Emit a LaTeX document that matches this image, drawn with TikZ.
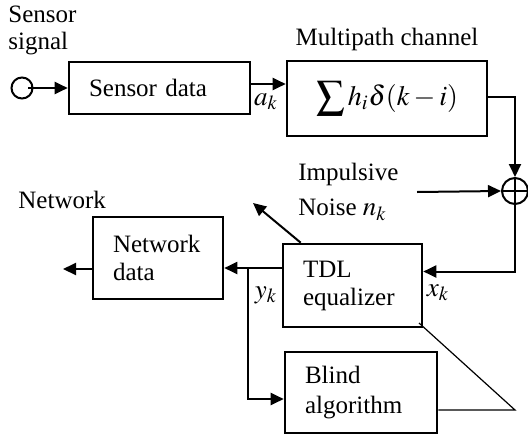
\documentclass[tikz,border=0pt]{standalone}
\usepackage{mathptmx}
\usepackage{fontspec}
\setmainfont{Liberation Serif}
\usetikzlibrary{arrows.meta}
\begin{document}
\begin{tikzpicture}[x=0.5pt,y=-0.5pt,
  font=\fontsize{12.5}{14}\selectfont,
  blk/.style={draw,line width=1.3pt,inner ysep=0pt,inner xsep=10pt,align=left},
  wire/.style={line width=1pt},
  arr/.style={wire,-{Triangle[length=6.5pt,width=6pt]}},
  lbl/.style={inner sep=0pt,font=\fontsize{13.5}{15}\selectfont}]
\useasboundingbox (0,0) rectangle (528,439);
% blocks
\node[blk,minimum width=90.5pt,minimum height=26pt,text width=70.5pt] (sensor) at (159.5,88) {Sensor data};
\node[draw,line width=1.3pt,minimum width=100pt,minimum height=37.5pt,inner sep=0pt,font=\fontsize{14}{16}\selectfont] (channel) at (387,98.5) {$\displaystyle\sum h_i\delta(k-i)$};
\node[blk,minimum width=69.5pt,minimum height=41.5pt,text width=49.5pt] (tdl) at (352.5,285.5) {TDL\\equalizer};
\node[blk,minimum width=65pt,minimum height=41pt,text width=45pt] (net) at (158,258) {Network\\data};
\node[blk,minimum width=76pt,minimum height=40.5pt,text width=56pt,font=\fontsize{12.5}{15}\selectfont] (blind) at (361,392.5) {Blind\\algorithm};
\node[draw,circle,wire,minimum size=10.5pt,inner sep=0pt] (src) at (22,88) {};
\node[draw,circle,wire,minimum size=13pt,inner sep=0pt] (plus) at (515,191) {};
\draw[wire] (plus.north) -- (plus.south) (plus.west) -- (plus.east);
% labels
\node[inner sep=0pt,anchor=north west,align=left,font=\fontsize{12.5}{13.5}\selectfont] (ss) at (8,6) {Sensor\\signal};
\node[inner sep=0pt,anchor=base] (mc) at (387,45) {Multipath channel};
\node[inner sep=0pt,anchor=north west,align=left,font=\fontsize{12.5}{17.5}\selectfont] (noise) at (298,163) {Impulsive\\Noise~\fontsize{13.5}{15}\selectfont$n_k$};
\node[inner sep=0pt,anchor=base west] (nw) at (18,208) {Network};
\node[lbl] (ak) at (266,102) {$a_k$};
\node[lbl] (yk) at (266,295) {$y_k$};
\node[lbl] (xk) at (438,293) {$x_k$};
% coordinates
\coordinate (nz) at (417,192);
\coordinate (netout) at (63,269);
\coordinate (j) at (248,268);
\coordinate (bl) at (248,399);
\coordinate (tup) at (253,203);
\coordinate (tri) at (515,410);
\coordinate (adj) at (419,323);
% connectors
\draw[arr] ([xshift=3pt]src.center) -- (sensor.west);
\draw[arr] ([yshift=2pt]sensor.east) -- ([yshift=2pt]sensor.east -| channel.west);
\draw[arr] ([yshift=0.75pt]channel.east) -| (plus.north);
\draw[arr] (nz) -- (plus.west);
\draw[arr] (plus.south) |- ([yshift=7pt]tdl.east);
\draw[arr] ([yshift=8.75pt]tdl.west) -- ([yshift=8.75pt]tdl.west -| net.east);
\draw[arr] (net.west |- netout) -- (netout);
\draw[arr] (j) -- (bl) -- (bl -| blind.west);
\draw[arr] ([xshift=9.5pt]tdl.north west) -- (tup);
\draw[line width=0.6pt] ([yshift=-8.75pt]blind.east) -- (tri) -- (adj);
\end{tikzpicture}
\end{document}
